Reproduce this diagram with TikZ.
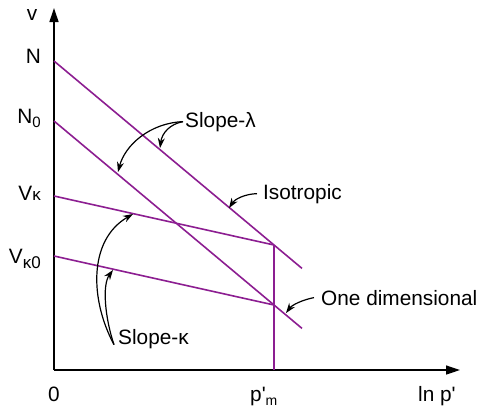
\documentclass[tikz,border=0pt]{standalone}
\usepackage{fontspec}
\setmainfont{Liberation Sans}
\usetikzlibrary{arrows.meta}
\definecolor{plum}{RGB}{140,30,145}
\begin{document}
\begin{tikzpicture}[x=1pt,y=-1pt,
 axis/.style={line width=1.3pt,-{Triangle[length=14pt,width=9pt]}},
 curve/.style={plum,line width=1.6pt},
 note/.style={line width=1.2pt,-{Stealth[length=10pt,width=7pt]}},
 lbl/.style={font=\fontsize{20.8}{24}\selectfont,inner sep=0pt}
]
\useasboundingbox (0,0) rectangle (478,408);
% axes
\coordinate (O) at (54,370);
\coordinate (ytop) at (54,8);
\coordinate (xend) at (460,370);
\draw[axis] (O) -- (ytop);
\draw[axis] (O) -- (xend);
% line points
\coordinate (N) at (54,61);
\coordinate (N0) at (54,121);
\coordinate (Vk) at (54,196);
\coordinate (Vk0) at (54,256);
\coordinate (A) at (274,245);
\coordinate (B) at (274,305);
\coordinate (Nend) at (302,268.4);
\coordinate (N0end) at (302,328.4);
\coordinate (pm) at (274,370);
\draw[curve] (N) -- (Nend);
\draw[curve] (N0) -- (N0end);
\draw[curve] (Vk) -- (A);
\draw[curve] (Vk0) -- (B);
\draw[curve] (pm) -- (A);
% axis labels
\node[lbl,anchor=base] (lv) at (32,20) {v};
\node[lbl,anchor=base east] (lN) at (41,63) {N};
\node[lbl,anchor=base east] (lN0) at (41,123) {N\raisebox{-0.2em}{\fontsize{15}{15}\selectfont 0}};
\node[lbl,anchor=base east] (lVk) at (41,200) {V{\fontsize{17}{17}\selectfont κ}};
\node[lbl,anchor=base east] (lVk0) at (41,263) {V\raisebox{-0.25em}{\fontsize{17}{17}\selectfont κ0}};
\node[lbl,anchor=base] (l0) at (54,401) {0};
\node[lbl,anchor=base west] (lpm) at (250,401) {p\textquotesingle\raisebox{-0.2em}{\fontsize{14}{14}\selectfont m}};
\node[lbl,anchor=base west] (llnp) at (418,401) {ln p\textquotesingle};
% annotations
\node[lbl,anchor=base west] (slopeL) at (185,127) {Slope-λ};
\node[lbl,anchor=base west] (iso) at (263,199) {Isotropic};
\node[lbl,anchor=base west] (oned) at (321,305) {One dimensional};
\node[lbl,anchor=base west] (slopeK) at (118,344) {Slope-κ};
\coordinate (tL1) at (118,172);
\coordinate (tL2) at (160,148);
\coordinate (tI) at (229,208);
\coordinate (tO) at (286,313);
\coordinate (tK1) at (133,214);
\coordinate (tK2) at (113,270);
\coordinate (sL) at ([xshift=-2pt]slopeL.west);
\coordinate (sI) at ([xshift=-6pt]iso.west);
\coordinate (sO) at ([xshift=-7pt]oned.west);
\coordinate (sK) at ([xshift=-4pt,yshift=-6pt]slopeK.west);
\draw[note] (sL) .. controls (150,123) and (125,145) .. (tL1);
\draw[note] (sL) .. controls (170,124) and (162,133) .. (tL2);
\draw[note] (sI) .. controls (245,194) and (235,199) .. (tI);
\draw[note] (sO) .. controls (302,300) and (292,305) .. (tO);
\draw[note] (sK) .. controls (90,300) and (88,240) .. (tK1);
\draw[note] (sK) .. controls (105,318) and (102,285) .. (tK2);
\end{tikzpicture}
\end{document}
